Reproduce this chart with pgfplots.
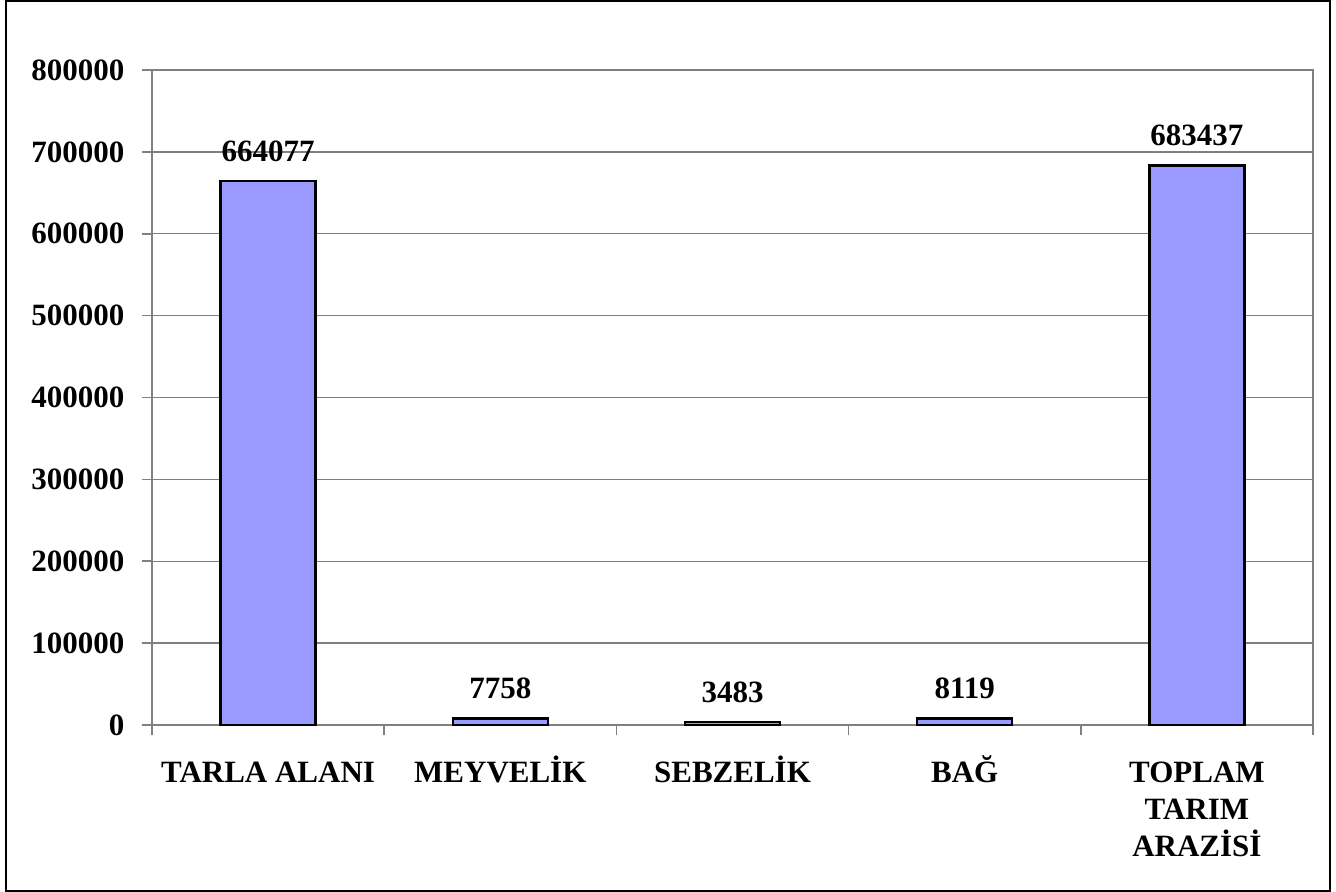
\documentclass[border=0pt]{standalone}
\usepackage{pgfplots}
\pgfplotsset{compat=1.18}
\usepackage{fontspec}
\setmainfont{Liberation Serif}
\definecolor{barfill}{RGB}{153,153,255}
\definecolor{axgray}{RGB}{128,128,128}
\begin{document}
\fontsize{15.5pt}{18.5pt}\selectfont
\begin{tikzpicture}
\begin{axis}[
  at={(0,0)}, anchor=south west,
  scale only axis,
  width=580.5pt, height=327.5pt,
  xmin=-0.5, xmax=4.5,
  ymin=0, ymax=800000,
  ytick={0,100000,...,800000},
  xtick={0,1,2,3,4},
  xticklabels={\vphantom{İ}TARLA ALANI, \vphantom{İ}MEYVELİK, \vphantom{İ}SEBZELİK, \vphantom{İ}BAĞ, {\vphantom{İ}TOPLAM\\TARIM\\ARAZİSİ}},
  minor xtick={-0.5,0.5,1.5,2.5,3.5,4.5},
  xtick pos=left, ytick pos=left,
  tick align=outside,
  major x tick style={draw=none},
  major tick length=5pt, minor tick length=5pt,
  tick style={axgray, line width=0.8pt},
  axis line style={axgray, line width=0.9pt},
  ymajorgrids, grid style={axgray, line width=0.7pt},
  /pgf/number format/assume math mode=true,
  /pgf/number format/fixed,
  /pgf/number format/1000 sep={},
  scaled y ticks=false,
  ticklabel style={font=\fontsize{15.5pt}{18.5pt}\selectfont\bfseries},
  yticklabel style={xshift=-3.5pt},
  xticklabel style={align=center, yshift=-5pt, text depth=0pt},
  clip=false,
  nodes near coords,
  nodes near coords style={font=\fontsize{15.5pt}{18.5pt}\selectfont\bfseries, anchor=south, yshift=4pt},
]
\addplot[ybar, bar width=47.5pt, fill=barfill, draw=black, line width=1.2pt] coordinates {
  (0,664077) (1,7758) (2,3483) (3,8119) (4,683437)
};
\end{axis}
\pgfresetboundingbox
\draw[black, line width=0.6pt] (-73pt,-83pt) rectangle (589pt,362pt);
\useasboundingbox (-76pt,-83.5pt) rectangle (592pt,362.5pt);
\end{tikzpicture}
\end{document}
